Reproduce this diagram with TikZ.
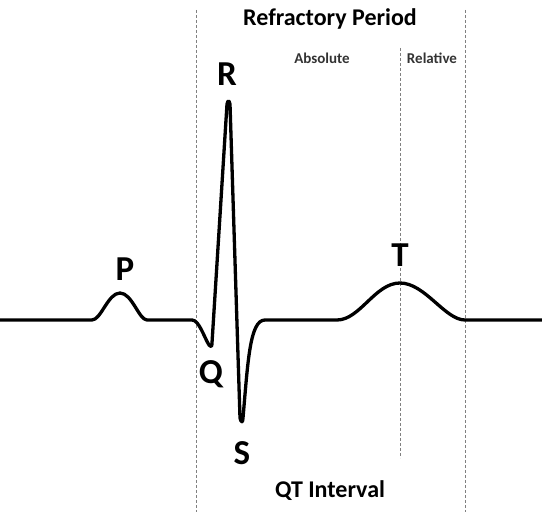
\documentclass[tikz,border=0pt]{standalone}
\usepackage{fontspec}
\setmainfont{Carlito}
\usepackage{tikz}

\begin{document}
\begin{tikzpicture}[x=1pt, y=-1pt]
        \tikzstyle{wave}  = [line width=3.3pt, line join=round, line cap=round]
        \tikzstyle{limit} = [densely dashed, gray, line width=0.6pt]
        \tikzstyle{big}   = [font=\bfseries\fontsize{35}{35}\selectfont, inner sep=0pt]
        \tikzstyle{title} = [font=\bfseries\fontsize{24}{24}\selectfont, inner sep=0pt]
        \tikzstyle{small} = [font=\bfseries\fontsize{15}{15}\selectfont, text=black!80, inner sep=0pt]

        \useasboundingbox (0,0) rectangle (542,518);

        % Liniile punctate.
        \foreach \x/\ya/\yb in {196/10/512, 465/10/512, 400/48/458}
            \draw[limit] (\x,\ya) -- (\x,\yb);

        % Unda ECG.
        \draw[wave] (0,320) -- (92,320)
            .. controls (101,320) and (108,293) .. (120,293)
            .. controls (132,293) and (139,320) .. (147,320) -- (192,320)
            .. controls (199,320) and (204,337) .. (209,345)
            .. controls (211,347) and (212,347) .. (212,343)
            -- (227,104) .. controls (228,100) and (229,100) .. (230,104)
            -- (240,418) .. controls (241,423) and (243,423) .. (243,418)
            .. controls (248,360) and (250,320) .. (265,320) -- (337,320)
            .. controls (360,320) and (375,283) .. (400,283)
            .. controls (425,283) and (445,320) .. (465,320) -- (542,320);

        % Etichetele undelor.
        \node[big] (P) at (125,269) {P};
        \node[big] (Q) at (211,374) {Q};
        \node[big] (R) at (227,74)  {R};
        \node[big] (S) at (242,453) {S};
        \node[big] (T) at (400,255) {T};

        % Perioada refractara.
        \node[title] (refr) at (330,19)  {Refractory Period};
        \node[small] (abs)  at (322,58)  {Absolute};
        \node[small] (rel)  at (432,58)  {Relative};
        \node[title] (qt)   at (330,491) {QT Interval};
    \end{tikzpicture}
\end{document}
